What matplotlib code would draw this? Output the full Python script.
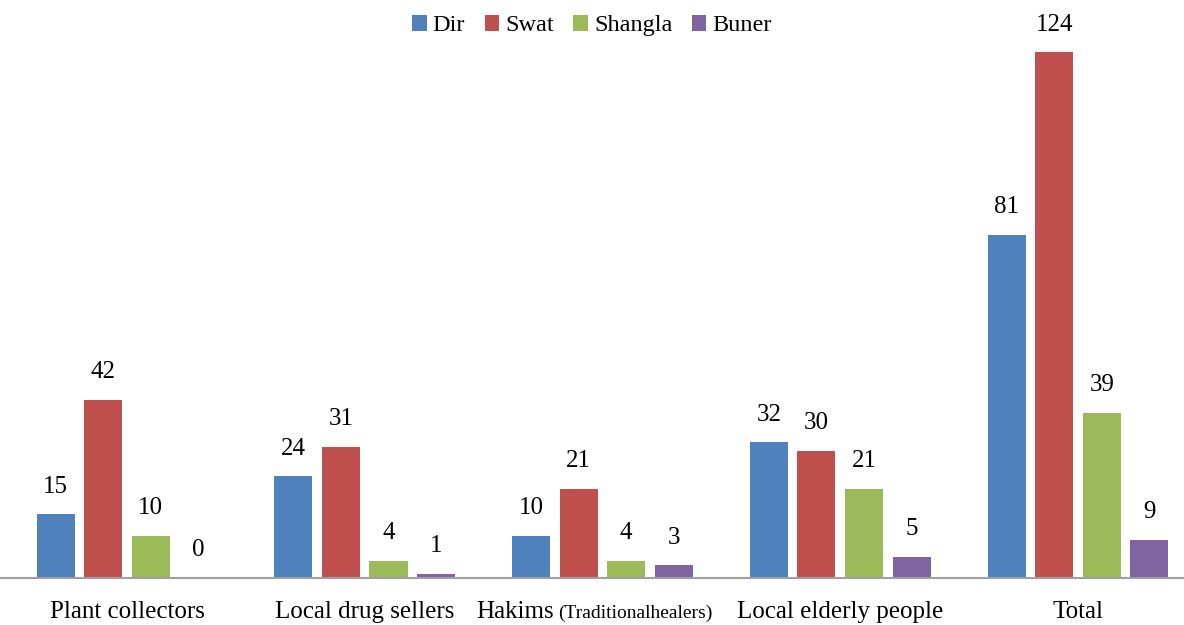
import numpy as np
import matplotlib.pyplot as plt

plt.rcParams['font.family'] = ['Liberation Serif', 'DejaVu Serif']

categories = ['Plant collectors', 'Local drug sellers', 'Hakims (Traditionalhealers)',
              'Local elderly people', 'Total']
series = ['Dir', 'Swat', 'Shangla', 'Buner']
dir_vals = [15, 24, 10, 32, 81]
swat_vals = [42, 31, 21, 30, 124]
shangla_vals = [10, 4, 4, 21, 39]
buner_vals = [0, 1, 3, 5, 9]
colors = ['#4F81BD', '#C0504D', '#9BBB59', '#8064A2']

fig = plt.figure(figsize=(11.84, 6.25), dpi=100)
ax = fig.add_axes([0.0, 0.0752, 1.0, 0.86])

x = np.arange(len(categories))
width = 0.16
pitch = 0.2
for i, (name, vals) in enumerate(zip(series, [dir_vals, swat_vals, shangla_vals, buner_vals])):
    pos = x + (i - 1.5) * pitch
    bars = ax.bar(pos, vals, width, color=colors[i], label=name)
    for b, v in zip(bars, vals):
        ax.annotate(str(v), (b.get_x() + b.get_width() / 2, v), xytext=(0, 12),
                    textcoords='offset points', ha='center', va='bottom', fontsize=18)

ax.set_xlim(-0.534, 4.446)
ax.set_ylim(0, 126.8)
ax.set_yticks([])
for s in ['top', 'right', 'left']:
    ax.spines[s].set_visible(False)
ax.spines['bottom'].set_color('#A0A0A0')
ax.spines['bottom'].set_linewidth(1.5)

ax.set_xticks(x)
ax.set_xticklabels([])
ax.tick_params(axis='x', length=0)

# category labels drawn by hand so the Hakims label can have a smaller parenthetical
for xi, cat in zip(x, categories):
    if cat.startswith('Hakims'):
        ax.annotate('Hakims', (xi, 0), xycoords=('data', 'axes fraction'), xytext=(-35, -29),
                    textcoords='offset points', ha='right', va='baseline', fontsize=18)
        ax.annotate('(Traditionalhealers)', (xi, 0), xycoords=('data', 'axes fraction'),
                    xytext=(-32, -29), textcoords='offset points', ha='left', va='baseline',
                    fontsize=14)
    else:
        ax.annotate(cat, (xi, 0), xycoords=('data', 'axes fraction'), xytext=(0, -29),
                    textcoords='offset points', ha='center', va='baseline', fontsize=18)

ax.legend(loc='upper center', bbox_to_anchor=(0.5, 1.088), ncol=4, frameon=False, fontsize=17.5,
          handlelength=0.6, handleheight=0.6, handletextpad=0.25, columnspacing=0.8)

fig.savefig('out.png', dpi=100)
